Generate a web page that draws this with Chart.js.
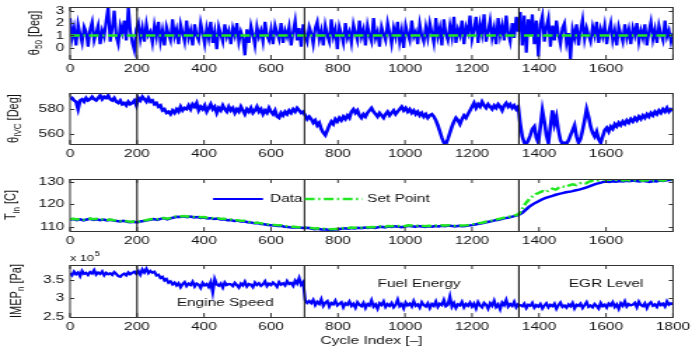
<!DOCTYPE html>
<html><head><meta charset="utf-8">
<script src="https://cdn.jsdelivr.net/npm/chart.js@4.4.0/dist/chart.umd.min.js"></script>
<style>
html,body{margin:0;padding:0;background:#fff;}
#wrap{position:relative;width:692px;height:350px;overflow:hidden;}
#wrap canvas{position:absolute;left:0;top:0;transform:scaleX(1.40081);transform-origin:0 0;}
</style></head><body>
<div id="wrap">
<canvas id="c1" width="494" height="350"></canvas>
<canvas id="c2" width="494" height="350"></canvas>
<canvas id="c3" width="494" height="350"></canvas>
<canvas id="c4" width="494" height="350"></canvas>
</div>
<script>
// ---------------- DATA ----------------
const STEP = 6;      // cycles between samples of theta50, thetaIVC, imep
const T_STEP = 10;   // cycles between samples of tinData, tinSet
const eventCycles = [200, 700, 1340];
const xTickVals = [0,200,400,600,800,1000,1200,1400,1600,1800];

const theta50 = [
2.4,0.8,1.6,0.2,1.9,1.1,0.4,1.7,1.3,0.1,1.5,2.1,0.6,1.2,1.8,0.3,1.4,0.9,2.2,3.3,
0.5,1.6,3.0,0.9,0.3,1.8,1.2,2.2,0.6,3.3,1.4,0.4,-0.2,1.5,2.0,0.7,1.6,0.5,1.9,1.0,
1.3,0.4,1.8,0.9,2.1,0.5,1.4,0.2,1.7,1.1,0.6,2.3,0.9,1.5,0.3,1.9,1.2,0.5,2.2,0.8,
1.4,0.2,1.9,1.0,0.6,2.0,1.2,0.3,1.6,0.8,2.1,0.4,1.3,-0.1,1.7,1.1,0.5,1.9,0.9,1.4,
0.3,1.6,1.0,2.0,0.5,1.3,0.8,-0.6,1.5,0.4,1.8,1.1,0.2,1.7,0.9,1.4,0.5,2.1,1.0,0.6,
1.5,0.3,1.8,1.2,0.7,2.0,0.4,1.4,0.9,1.7,0.2,1.3,2.2,0.6,1.6,0.1,1.9,1.0,0.5,1.7,
1.2,0.3,1.6,2.1,0.7,1.4,0.2,1.8,1.0,0.5,2.3,0.9,1.5,-0.1,1.7,1.1,0.4,2.0,0.8,1.3,
0.4,1.9,1.2,0.6,2.2,0.9,1.5,0.2,1.8,1.0,0.5,2.4,0.8,1.3,0.1,1.7,1.1,0.6,2.0,1.2,
0.3,1.6,0.9,2.1,0.5,1.4,0.0,1.8,1.1,0.6,2.2,0.9,1.3,0.3,1.9,1.0,0.5,1.7,0.8,2.0,
1.2,0.4,2.4,0.9,1.6,0.2,2.3,1.1,0.6,1.8,0.9,2.5,0.4,1.5,1.0,2.2,0.3,1.7,1.2,2.6,
0.7,1.5,2.5,0.4,1.9,1.1,2.7,0.5,1.3,2.2,0.8,1.6,0.3,2.4,1.0,1.8,0.6,2.6,1.2,0.5,
2.0,0.8,2.5,1.3,2.9,0.2,2.6,-0.4,2.3,1.0,2.7,0.3,2.2,-0.7,1.9,2.6,0.5,1.7,2.4,0.1,
1.8,0.6,2.2,1.1,0.3,1.6,2.0,0.4,1.2,-0.9,1.5,0.8,1.9,0.2,1.4,2.3,0.7,1.6,1.0,0.5,
1.7,1.0,2.1,0.4,1.5,0.9,1.8,0.3,1.3,2.0,0.6,1.4,0.2,1.7,1.1,0.5,1.9,0.8,1.5,0.3,
1.6,1.0,2.0,0.5,1.4,0.8,1.9,0.2,1.3,2.1,0.7,1.5,0.4,1.8,1.1,0.6,2.2,0.9,1.4,0.5,
1.2];
const theta50SetCycles = [0, 1800];
const theta50Set = [1, 1];

const thetaIVC = [
588,589,587,586,580,587,588,586,589,587,588,590,588,587,589,591,588,590,589,591,
588,587,589,586,585,587,584,585,583,586,584,585,587,583,589,587,590,588,586,589,
586,587,584,585,582,583,579,580,577,578,576,579,577,580,578,582,579,581,580,583,
580,584,582,585,579,582,580,583,578,581,584,580,582,577,581,579,583,580,578,582,
579,581,577,580,578,582,579,576,580,578,581,577,579,582,578,580,576,579,577,581,
578,576,579,574,573,577,575,578,576,579,577,580,578,581,579,577,578,575,572,574,
572,569,571,567,569,564,561,559,563,567,570,568,572,570,573,571,574,572,575,573,
578,580,577,579,575,573,576,574,577,579,581,578,576,574,577,575,573,576,578,575,
577,579,576,578,580,582,579,581,578,580,577,579,576,578,575,577,574,576,573,575,
576,574,571,567,562,557,553,552,556,561,566,570,573,571,568,572,575,573,576,579,
582,585,581,584,582,586,583,581,584,582,580,583,581,584,582,579,583,585,582,584,
581,583,580,582,568,558,553,552,555,559,564,566,557,553,566,579,570,559,553,566,
579,568,574,563,555,552,553,552,555,559,563,567,558,553,556,563,571,580,574,566,
561,558,562,556,553,558,563,565,562,566,564,568,566,569,567,570,568,571,569,572,
570,573,571,574,572,575,573,576,574,577,575,578,576,579,577,580,578,581,578,580,
579];

const tinData = [
113.2,113.5,113.0,113.4,112.9,113.3,113.6,113.1,113.4,113.0,
113.3,112.9,113.2,112.8,112.6,112.4,112.7,112.3,112.1,112.3,
112.0,112.4,112.6,112.9,113.2,113.5,113.1,113.6,113.9,113.4,
113.8,114.2,114.5,114.4,114.7,114.3,114.6,114.2,114.4,114.0,
114.2,113.8,113.9,113.5,113.7,113.3,113.4,113.0,113.1,112.7,
112.8,112.4,112.5,112.1,112.0,111.6,111.7,111.3,111.2,110.9,
110.8,110.6,110.4,110.5,110.1,110.0,109.8,109.9,109.7,109.6,
109.5,109.6,109.3,109.0,109.2,108.9,109.0,108.8,108.7,108.9,
109.0,109.2,109.4,109.2,109.5,109.3,109.6,109.4,109.7,109.5,
109.8,109.6,109.9,110.1,109.8,110.2,110.0,110.3,110.1,109.9,
110.2,110.5,110.3,110.1,110.4,110.2,110.0,110.3,110.1,110.4,
110.2,110.5,110.3,110.6,110.4,110.2,110.5,110.3,110.4,110.6,
110.8,111.1,111.4,111.6,112.0,112.3,112.6,113.0,113.2,113.6,
113.9,114.2,114.6,114.9,115.4,116.3,117.6,118.9,119.9,120.8,
121.5,122.3,122.9,123.4,123.8,124.3,124.7,125.0,125.4,125.6,
125.9,126.3,126.6,127.0,127.5,128.0,128.6,129.1,129.5,129.9,
130.2,130.0,130.3,130.1,130.4,130.2,130.5,130.3,130.6,130.4,
130.2,130.5,130.3,130.0,130.4,130.2,130.6,130.4,130.7,130.8,
131.0];

const tinSet = [
113.5,113.6,113.3,113.6,113.2,113.5,113.7,113.4,113.6,113.2,
113.4,113.1,113.3,113.0,112.8,112.6,112.8,112.5,112.3,112.4,
112.2,112.5,112.8,113.1,113.4,113.6,113.4,113.8,114.0,113.7,
114.0,114.5,114.8,114.7,114.9,114.6,114.8,114.5,114.6,114.3,
114.4,114.1,114.1,113.8,113.9,113.6,113.6,113.3,113.3,113.0,
113.0,112.7,112.7,112.4,112.2,111.9,111.9,111.6,111.4,111.2,
111.0,110.9,110.7,110.7,110.4,110.3,110.1,110.1,109.9,109.9,
109.8,109.8,109.6,109.3,109.4,109.2,109.2,109.1,109.0,109.1,
109.2,109.4,109.6,109.5,109.7,109.6,109.8,109.7,109.9,109.8,
110.0,109.9,110.1,110.3,110.1,110.4,110.3,110.5,110.4,110.2,
110.4,110.7,110.6,110.4,110.6,110.5,110.3,110.5,110.4,110.6,
110.5,110.7,110.6,110.8,110.7,110.5,110.7,110.6,110.7,110.9,
111.1,111.4,111.7,111.9,112.3,112.6,112.9,113.3,113.5,113.9,
114.2,114.5,114.8,115.2,115.8,118.0,120.5,122.2,123.5,124.5,
125.2,125.9,125.4,126.4,127.0,126.6,127.5,128.0,127.7,128.5,
128.9,128.6,129.3,129.7,129.4,130.1,130.5,130.3,130.9,131.1,
131.2,131.0,131.1,130.9,131.0,130.7,130.9,130.6,130.8,130.6,
130.7,130.5,130.8,130.4,130.7,130.6,130.8,130.5,130.9,131.0,
131.1];

// IMEP_n in units of 1e5 Pa
const imep = [
3.68,3.62,3.72,3.65,3.70,3.60,3.74,3.66,3.69,3.63,3.71,3.67,3.76,3.64,3.70,3.66,3.73,3.62,3.69,3.65,
3.68,3.63,3.71,3.66,3.60,3.58,3.64,3.67,3.62,3.70,3.65,3.69,3.72,3.66,3.74,3.64,3.78,3.70,3.80,3.68,
3.74,3.69,3.72,3.62,3.64,3.55,3.58,3.48,3.52,3.42,3.46,3.38,3.43,3.35,3.41,3.30,3.39,3.44,3.33,3.40,
3.36,3.45,3.32,3.40,3.37,3.28,3.42,3.35,3.39,3.31,3.44,3.16,3.52,3.38,3.34,3.40,3.29,3.43,3.36,3.39,
3.38,3.33,3.42,3.36,3.29,3.40,3.35,3.45,3.32,3.39,3.37,3.30,3.43,3.36,3.41,3.34,3.38,3.46,3.33,3.40,
3.36,3.43,3.38,3.31,3.44,3.37,3.41,3.35,3.47,3.39,3.42,3.34,3.48,3.40,3.55,3.37,3.44,2.95,2.88,2.93,
2.87,2.96,2.82,2.91,2.85,2.98,2.80,2.89,2.93,2.78,2.88,2.84,2.94,2.81,2.86,2.90,2.76,2.87,2.83,2.92,
2.80,2.86,2.75,2.90,2.83,2.79,2.88,2.74,2.85,2.81,2.95,2.78,2.84,2.72,2.87,2.82,2.92,2.77,2.85,2.80,
2.88,2.76,2.83,2.97,2.79,2.85,2.73,2.89,2.81,2.86,2.78,2.93,2.80,2.84,2.75,2.90,2.82,2.78,2.87,2.74,
2.85,2.80,2.92,2.77,2.86,2.82,2.96,2.79,2.83,3.05,2.78,2.88,2.74,2.84,2.81,2.91,2.76,2.85,2.80,2.89,
2.78,2.86,2.73,2.90,2.81,2.76,2.88,2.83,2.72,2.87,2.80,2.94,2.77,2.84,2.71,2.89,2.82,2.96,2.78,2.85,
2.80,2.91,2.76,2.84,2.82,2.79,2.86,2.74,2.83,2.80,2.88,2.75,2.82,2.78,2.85,2.73,2.81,2.87,2.76,2.83,
2.79,2.86,2.72,2.82,2.89,2.77,2.81,2.75,2.84,2.79,2.88,2.73,2.83,2.80,2.86,2.74,2.82,2.90,2.77,2.81,
2.76,2.85,2.80,2.73,2.88,2.79,2.83,2.75,2.86,2.81,2.90,2.77,2.84,2.72,2.87,2.80,2.92,2.78,2.85,2.81,
2.83,2.88,2.76,2.91,2.82,2.79,2.87,2.74,2.85,2.90,2.80,2.84,2.77,2.89,2.82,2.86,2.78,2.92,2.83,2.87,
2.84];

const yTicks1 = [0, 1, 2, 3];
const yTicks2 = [560, 580];
const yTicks3 = [110, 120, 130];
const yTicks4 = [2.5, 3, 3.5];
const legendLabels = ['Data', 'Set Point'];
const phaseLabels = ['Engine Speed', 'Fuel Energy', 'EGR Level'];

// ---------------- LAYOUT / STYLE ----------------
const W = 494, H = 350, SX = 692 / W;
const PLOT_LEFT = 70 / SX, PLOT_RIGHT = 673 / SX;
const FONT = "'Liberation Sans', Arial, sans-serif";
const BLUE = '#0000ff', GREEN = '#22e622';
const DASHDOT = [7, 2.5, 1.5, 2.5];

const toXY = (arr, step) => arr.map((v, i) => ({ x: i * step, y: v }));
const toXYc = (xs, ys) => ys.map((v, i) => ({ x: xs[i], y: v }));

function line(ctx, x1, y1, x2, y2) { ctx.beginPath(); ctx.moveTo(x1, y1); ctx.lineTo(x2, y2); ctx.stroke(); }

function drawYLabel(ctx, cx, cy, parts) {
  ctx.save();
  ctx.translate(cx, cy); ctx.rotate(-Math.PI / 2);
  ctx.fillStyle = '#111'; ctx.textAlign = 'left'; ctx.textBaseline = 'alphabetic';
  let total = 0;
  const ws = parts.map(p => { ctx.font = (p.sub ? 8 : 11) + 'px ' + FONT; const w = ctx.measureText(p.t).width; total += w; return w; });
  let xx = -total / 2;
  parts.forEach((p, i) => { ctx.font = (p.sub ? 8 : 11) + 'px ' + FONT; ctx.fillText(p.t, xx, p.sub ? 6.5 : 4); xx += ws[i]; });
  ctx.restore();
}

function makeDecor(cfg) {
  return {
    id: 'decor',
    afterDatasetsDraw(chart) {
      const { ctx, chartArea: a, scales: { x, y } } = chart;
      ctx.save();
      ctx.strokeStyle = '#1a1a1a'; ctx.lineWidth = 1.1;
      eventCycles.forEach(c => { const px = x.getPixelForValue(c); line(ctx, px, a.top, px, a.bottom); });
      ctx.strokeStyle = '#333'; ctx.lineWidth = 1;
      ctx.strokeRect(a.left, Math.round(a.top) + 0.5, a.right - a.left, Math.round(a.bottom) - Math.round(a.top));
      xTickVals.forEach(v => { const px = x.getPixelForValue(v); line(ctx, px, a.bottom, px, a.bottom - 4); line(ctx, px, a.top, px, a.top + 4); });
      cfg.yTicks.forEach(v => { const py = Math.round(y.getPixelForValue(v)) + 0.5; line(ctx, a.left, py, a.left + 3, py); line(ctx, a.right, py, a.right - 3, py); });
      drawYLabel(ctx, cfg.labelX, (a.top + a.bottom) / 2, cfg.label);
      if (cfg.extra) cfg.extra(chart);
      ctx.restore();
    }
  };
}

function makeChart(id, p, yMin, yMax, yTicks, yFmt, showLast, datasets, label, labelX, extra) {
  return new Chart(document.getElementById(id), {
    type: 'line',
    data: { datasets },
    options: {
      responsive: false, animation: false, devicePixelRatio: 1,
      layout: { padding: { top: p.top, left: 0, right: W - PLOT_RIGHT, bottom: 0 } },
      plugins: { legend: { display: false }, tooltip: { enabled: false } },
      elements: { point: { radius: 0 }, line: { tension: 0 } },
      scales: {
        x: {
          type: 'linear', min: 0, max: 1800,
          afterBuildTicks: s => { s.ticks = xTickVals.map(v => ({ value: v })); },
          afterFit: s => { s.height = H - p.bottom; s.paddingLeft = 0; s.paddingRight = 0; },
          grid: { display: false, drawTicks: false }, border: { display: false },
          ticks: { autoSkip: false, maxRotation: 0, padding: 3, color: '#111', font: { family: FONT, size: 11 },
            callback: v => (v === 1800 && !showLast) ? '' : String(v) }
        },
        y: {
          min: yMin, max: yMax,
          afterBuildTicks: s => { s.ticks = yTicks.map(v => ({ value: v })); },
          afterFit: s => { s.width = PLOT_LEFT; s.paddingTop = 0; s.paddingBottom = 0; },
          grid: { display: false, drawTicks: false }, border: { display: false },
          ticks: { autoSkip: false, padding: 4, color: '#111', font: { family: FONT, size: 11 }, callback: v => yFmt(v) }
        }
      }
    },
    plugins: [makeDecor({ yTicks, label, labelX: labelX / SX, extra })]
  });
}

const P = [ { top: 7, bottom: 59 }, { top: 93, bottom: 144 }, { top: 179, bottom: 231 }, { top: 265, bottom: 317 } ];

// Panel 1: theta50 (set point drawn on top: lower order = on top)
makeChart('c1', P[0], -0.9, 3.3, yTicks1, v => String(v), false, [
  { data: toXY(theta50, STEP), borderColor: BLUE, borderWidth: 2.2, order: 2 },
  { data: toXYc(theta50SetCycles, theta50Set), borderColor: GREEN, borderWidth: 2.5, borderDash: DASHDOT, order: 1 }
], [{ t: 'θ' }, { t: '50', sub: true }, { t: ' [Deg]' }], 33);

// Panel 2: thetaIVC
makeChart('c2', P[1], 552, 593, yTicks2, v => String(v), false, [
  { data: toXY(thetaIVC, STEP), borderColor: BLUE, borderWidth: 2.6 }
], [{ t: 'θ' }, { t: 'IVC', sub: true }, { t: ' [Deg]' }], 12);

// Panel 3: Tin with legend
makeChart('c3', P[2], 108.2, 131.3, yTicks3, v => String(v), false, [
  { data: toXY(tinData, T_STEP), borderColor: BLUE, borderWidth: 2.5, order: 2 },
  { data: toXY(tinSet, T_STEP), borderColor: GREEN, borderWidth: 2.5, borderDash: DASHDOT, order: 1 }
], [{ t: 'T' }, { t: 'in', sub: true }, { t: ' [C]' }], 10.5, chart => {
  const { ctx, scales: { x } } = chart;
  const ly = 199;
  ctx.lineWidth = 2.2; ctx.strokeStyle = BLUE; ctx.setLineDash([]);
  line(ctx, x.getPixelForValue(427), ly, x.getPixelForValue(576), ly);
  ctx.strokeStyle = GREEN; ctx.lineWidth = 2.5; ctx.setLineDash(DASHDOT);
  line(ctx, x.getPixelForValue(701), ly, x.getPixelForValue(872), ly);
  ctx.setLineDash([]);
  ctx.fillStyle = '#111'; ctx.font = '11px ' + FONT; ctx.textAlign = 'left'; ctx.textBaseline = 'middle';
  ctx.fillText(legendLabels[0], x.getPixelForValue(597), ly);
  ctx.fillText(legendLabels[1], x.getPixelForValue(887), ly);
});

// Panel 4: IMEP
makeChart('c4', P[3], 2.5, 3.9, yTicks4, v => String(v), true, [
  { data: toXY(imep, STEP), borderColor: BLUE, borderWidth: 2.2 }
], [{ t: 'IMEP' }, { t: 'n', sub: true }, { t: ' [Pa]' }], 15, chart => {
  const { ctx, chartArea: a, scales: { x } } = chart;
  ctx.fillStyle = '#111'; ctx.font = '11px ' + FONT; ctx.textAlign = 'center'; ctx.textBaseline = 'middle';
  ctx.fillText(phaseLabels[0], x.getPixelForValue(463), 303);
  ctx.fillText(phaseLabels[1], x.getPixelForValue(1042), 284);
  ctx.fillText(phaseLabels[2], x.getPixelForValue(1600), 284);
  ctx.fillText('Cycle Index [–]', x.getPixelForValue(900), 341);
  ctx.textAlign = 'left'; ctx.textBaseline = 'alphabetic';
  ctx.font = '9px ' + FONT;
  ctx.fillText('x 10', a.left, 261);
  const w = ctx.measureText('x 10').width;
  ctx.font = '7px ' + FONT;
  ctx.fillText('5', a.left + w + 0.5, 256);
});
</script>
</body></html>
